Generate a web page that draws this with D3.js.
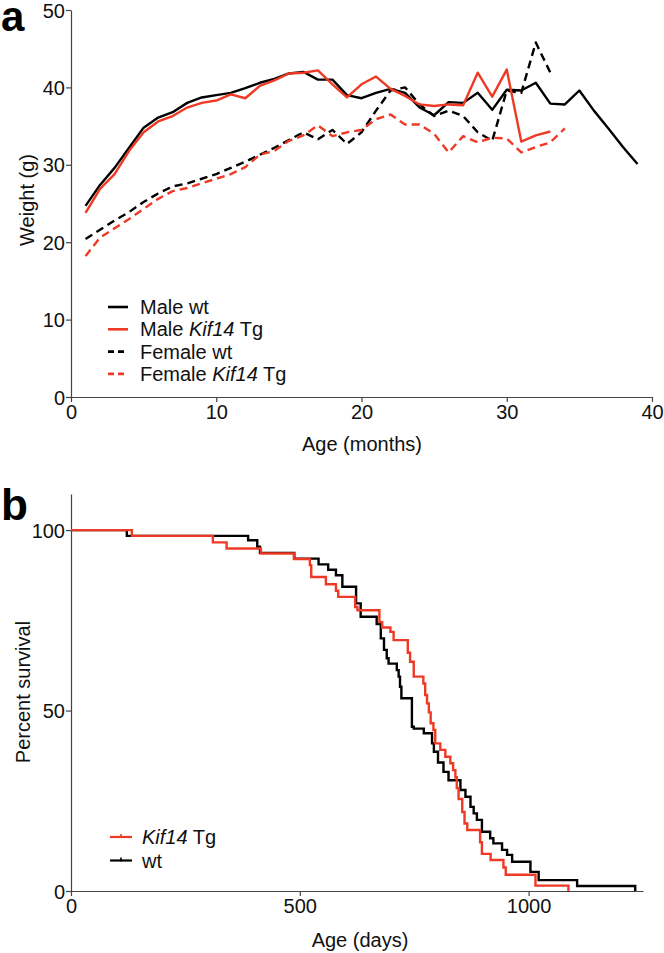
<!DOCTYPE html>
<html><head><meta charset="utf-8">
<script src="https://cdn.jsdelivr.net/npm/d3@7"></script>
<style>
html,body{margin:0;padding:0;background:#fff;}
text{font-family:"Liberation Sans",Arial,Helvetica,sans-serif;}
</style></head>
<body><svg id="c" width="664" height="953"></svg>
<script>
// ---------- Panel a: body weight ----------
const months = d3.range(1, 40);
const maleWt = [24.7,27.4,29.6,32.2,34.8,36.1,36.8,38.0,38.7,39.0,39.3,39.9,40.6,41.1,41.8,42.0,41.0,41.0,39.0,38.6,39.3,39.8,39.3,37.4,36.4,38.1,38.0,39.3,37.1,39.7,39.6,40.6,37.9,37.8,39.6,37.0,34.7,32.3,30.1];
const maleTg = [23.8,26.9,28.8,31.8,34.2,35.6,36.3,37.4,38.0,38.3,39.1,38.6,40.2,40.9,41.8,41.9,42.2,40.4,38.7,40.4,41.4,39.8,38.9,37.8,37.6,37.8,37.7,41.9,38.8,42.3,33.0,33.8,34.3];
const femaleWt = [20.4,21.6,22.8,23.9,25.2,26.3,27.2,27.6,28.2,28.8,29.6,30.4,31.3,32.2,33.2,34.2,33.3,34.5,32.7,34.2,37.0,39.6,40.0,37.8,36.3,37.0,36.3,34.2,33.1,39.6,39.3,45.8,41.9];
const femaleTg = [18.2,20.6,21.8,23.0,24.3,25.6,26.6,27.0,27.6,28.2,28.8,29.7,31.3,31.8,33.1,33.8,35.1,33.7,34.2,34.5,35.9,36.5,35.2,35.2,34.0,31.6,33.7,32.9,33.5,33.4,31.6,32.3,32.9,34.7];
const weightTicksX = [0,10,20,30,40];
const weightTicksY = [0,10,20,30,40,50];
const weightLegend = [
  {pre:"Male ", it:"", post:"wt", color:"#000", dash:null},
  {pre:"Male ", it:"Kif14", post:" Tg", color:"#ee3a24", dash:null},
  {pre:"Female ", it:"", post:"wt", color:"#000", dash:"6,4"},
  {pre:"Female ", it:"Kif14", post:" Tg", color:"#ee3a24", dash:"6,4"}
];

// ---------- Panel b: Kaplan-Meier survival ----------
const wtDays = [0,122,387,407,413,488,541,562,579,593,623,633,668,677,684,690,694,712,716,719,722,745,749,771,789,793,802,814,825,851,862,873,880,887,898,916,923,942,953,964,1004,1022,1106,1233];
const wtSurv = [100,98.4,97.2,95.4,93.7,92.1,90.5,89.0,87.5,84.3,79.7,76.0,74.0,70.0,66.8,64.5,63.0,61.2,59.4,56.6,53.4,45.5,45.0,43.7,40.9,38.6,35.6,33.0,30.7,28.0,26.1,23.3,21.5,19.7,16.4,14.6,13.2,11.4,10.0,8.1,5.3,3.0,1.4,0];
const tgDays = [0,133,310,340,415,487,522,525,557,579,584,621,626,674,680,698,705,736,741,749,770,774,778,782,786,792,796,807,818,829,835,840,843,847,855,860,866,894,898,917,945,950,1015,1087];
const tgSurv = [100,98.4,96.6,94.9,93.5,92.0,90.3,87.0,85.0,83.2,81.5,78.7,77.8,74.5,73.0,71.8,69.5,66.0,63.5,59.4,57.5,54.3,52.0,49.5,46.5,44.6,40.9,39.1,37.2,35.4,33.5,31.5,28.5,25.5,21.9,18.7,16.9,13.5,10.3,8.6,6.5,4.5,1.5,0];
const survTicksX = [0,500,1000];
const survTicksY = [0,50,100];

const RED = "#ee3a24";
const svg = d3.select("#c");
const FS = 20;

function styleAxis(g){
  g.select(".domain").attr("stroke","#444").attr("stroke-width",1.2);
  g.selectAll(".tick line").attr("stroke","#444").attr("stroke-width",1.2);
  g.selectAll(".tick text").attr("font-size",FS).attr("fill","#111")
   .attr("font-family",'"Liberation Sans",Arial,sans-serif');
}

// Panel a
const xa = d3.scaleLinear().domain([0,40]).range([71,652]);
const ya = d3.scaleLinear().domain([0,50]).range([397,10]);
svg.append("g").attr("transform","translate(0,397)")
  .call(d3.axisBottom(xa).tickValues(weightTicksX).tickFormat(d3.format("d")).tickSize(5).tickPadding(3).tickSizeOuter(0))
  .call(styleAxis);
svg.append("g").attr("transform","translate(71,0)")
  .call(d3.axisLeft(ya).tickValues(weightTicksY).tickFormat(d3.format("d")).tickSize(5).tickPadding(1).tickSizeOuter(0))
  .call(g=>{styleAxis(g); g.selectAll(".tick text").attr("dy","0.35em");});

const lineA = d3.line().x(d=>xa(d[0])).y(d=>ya(d[1]));
const seriesA = [
  {v:maleWt,color:"#000",dash:null},
  {v:maleTg,color:RED,dash:null},
  {v:femaleWt,color:"#000",dash:"8,5"},
  {v:femaleTg,color:RED,dash:"8,5"}
];
[2,3,0,1].forEach(i=>{
  const s = seriesA[i];
  svg.append("path").datum(s.v.map((v,j)=>[months[j],v]))
    .attr("d",lineA).attr("fill","none").attr("stroke",s.color)
    .attr("stroke-width",2.4).attr("stroke-linejoin","round")
    .attr("stroke-dasharray",s.dash);
});

weightLegend.forEach((l,i)=>{
  const y = 307 + i*22.3;
  svg.append("line").attr("x1",108).attr("x2",128).attr("y1",y).attr("y2",y)
    .attr("stroke",l.color).attr("stroke-width",2.6).attr("stroke-dasharray",l.dash);
  const t = svg.append("text").attr("x",140).attr("y",y).attr("dy","0.35em").attr("font-size",FS).attr("fill","#111");
  t.append("tspan").text(l.pre);
  if(l.it) t.append("tspan").attr("font-style","italic").text(l.it);
  t.append("tspan").text(l.post);
});

svg.append("text").attr("x",362).attr("y",451).attr("text-anchor","middle").attr("font-size",FS).attr("fill","#111").text("Age (months)");
svg.append("text").attr("transform","translate(34,200) rotate(-90)").attr("text-anchor","middle").attr("font-size",FS).attr("fill","#111").text("Weight (g)");
svg.append("text").attr("x",1).attr("y",31).attr("font-size",42).attr("font-weight","bold").attr("fill","#000").text("a");

// Panel b
const xb = d3.scaleLinear().domain([0,1250]).range([71,643]);
const yb = d3.scaleLinear().domain([0,110]).range([891,494]);
svg.append("g").attr("transform","translate(0,891)")
  .call(d3.axisBottom(xb).tickValues(survTicksX).tickFormat(d3.format("d")).tickSize(5).tickPadding(3).tickSizeOuter(0))
  .call(styleAxis);
svg.append("g").attr("transform","translate(71,0)")
  .call(d3.axisLeft(yb).tickValues(survTicksY).tickFormat(d3.format("d")).tickSize(5).tickPadding(1).tickSizeOuter(0))
  .call(g=>{styleAxis(g); g.selectAll(".tick text").attr("dy","0.35em");});

const stepLine = d3.line().x(d=>xb(d[0])).y(d=>yb(d[1])).curve(d3.curveStepAfter);
[{d:wtDays,s:wtSurv,c:"#000"},{d:tgDays,s:tgSurv,c:RED}].forEach(k=>{
  svg.append("path").datum(k.d.map((t,i)=>[t,k.s[i]]))
    .attr("d",stepLine).attr("fill","none").attr("stroke",k.c)
    .attr("stroke-width",2.4).attr("stroke-linejoin","miter");
});

const survLegend = [{it:"Kif14",post:" Tg",c:RED},{it:"",post:"wt",c:"#000"}];
survLegend.forEach((l,i)=>{
  const y = 837 + i*23.5;
  svg.append("line").attr("x1",110).attr("x2",132).attr("y1",y).attr("y2",y).attr("stroke",l.c).attr("stroke-width",2.2);
  svg.append("line").attr("x1",121).attr("x2",121).attr("y1",y-3).attr("y2",y+1).attr("stroke",l.c).attr("stroke-width",1.6);
  const t = svg.append("text").attr("x",142).attr("y",y).attr("dy","0.35em").attr("font-size",FS).attr("fill","#111");
  if(l.it) t.append("tspan").attr("font-style","italic").text(l.it);
  t.append("tspan").text(l.post);
});

svg.append("text").attr("x",360).attr("y",947).attr("text-anchor","middle").attr("font-size",FS).attr("fill","#111").text("Age (days)");
svg.append("text").attr("transform","translate(30,692) rotate(-90)").attr("text-anchor","middle").attr("font-size",FS).attr("fill","#111").text("Percent survival");
svg.append("text").attr("x",1).attr("y",520).attr("font-size",44).attr("font-weight","bold").attr("fill","#000").text("b");
</script></body></html>
